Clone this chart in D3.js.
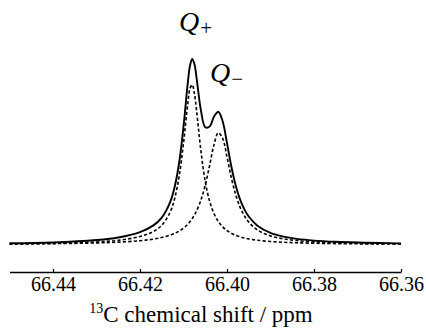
<!DOCTYPE html>
<html>
<head>
<meta charset="utf-8">
<script src="https://cdn.jsdelivr.net/npm/d3@7"></script>
<style>
  body { margin: 0; background: #fff; }
  svg { display: block; }
  text { font-family: "Liberation Serif", "Times New Roman", "DejaVu Serif", serif; fill: #000; }
</style>
</head>
<body>
<svg></svg>
<script>
let width = 426
let height = 328

// chemical shift samples (ppm)
let shifts = [66.450, 66.440, 66.430, 66.425, 66.420, 66.417, 66.415, 66.413, 66.412,
    66.411, 66.410, 66.409, 66.4085, 66.408, 66.4075, 66.407, 66.406, 66.405, 66.404,
    66.403, 66.402, 66.401, 66.400, 66.399, 66.398, 66.397, 66.396, 66.395, 66.393,
    66.390, 66.387, 66.384, 66.380, 66.375, 66.370, 66.365, 66.360]
// Q+ component (dashed, left)
let qPlus = [0.0040, 0.0070, 0.0160, 0.0260, 0.0500, 0.0800, 0.1200, 0.2066, 0.2914,
    0.4263, 0.6337, 0.8853, 0.9750, 0.9980, 0.9455, 0.8378, 0.5863, 0.3940, 0.2710,
    0.1938, 0.1438, 0.1103, 0.0870, 0.0702, 0.0577, 0.0483, 0.0409, 0.0351, 0.0267,
    0.0187, 0.0138, 0.0106, 0.0079, 0.0057, 0.0043, 0.0034, 0.0027]
// Q- component (dashed, right)
let qMinus = [0.0035, 0.0055, 0.0100, 0.0147, 0.0236, 0.0333, 0.0436, 0.0591, 0.0700,
    0.0841, 0.1027, 0.1276, 0.1434, 0.1618, 0.1837, 0.2096, 0.2771, 0.3712, 0.4934,
    0.6225, 0.6976, 0.6633, 0.5469, 0.4172, 0.3112, 0.2339, 0.1790, 0.1400, 0.0909,
    0.0537, 0.0351, 0.0246, 0.0166, 0.0111, 0.0079, 0.0059, 0.0046]
// full spectrum (solid)
let spectrum = [0.0078, 0.0128, 0.0280, 0.0440, 0.0780, 0.1180, 0.1680, 0.2700, 0.3640,
    0.5110, 0.7364, 1.0129, 1.1184, 1.1598, 1.1292, 1.0420, 0.8400, 0.7330, 0.7370,
    0.7980, 0.8300, 0.7700, 0.6339, 0.4874, 0.3689, 0.2822, 0.2199, 0.1751, 0.1176,
    0.0724, 0.0489, 0.0352, 0.0245, 0.0168, 0.0122, 0.0093, 0.0073]
let xTicks = [66.44, 66.42, 66.40, 66.38, 66.36]

let svg = d3.select('svg')
    .attr('width', width)
    .attr('height', height)

let x = d3.scaleLinear()
    .domain([66.45, 66.36])
    .range([9.5, 401])
let y = d3.scaleLinear()
    .domain([0, 1])
    .range([244.5, 84.5])

let line = vals => d3.line()
    .x((d, i) => x(shifts[i]))
    .y(d => y(d))
    .curve(d3.curveCatmullRom.alpha(0.5))(vals)

let traces = [
    { vals: qPlus, dash: '3.2,2.2', w: 1.6 },
    { vals: qMinus, dash: '3.2,2.2', w: 1.6 },
    { vals: spectrum, dash: null, w: 1.9 }
]
traces.forEach(t => {
    svg.append('path')
        .attr('d', line(t.vals))
        .attr('fill', 'none')
        .attr('stroke', '#000')
        .attr('stroke-width', t.w)
        .attr('stroke-dasharray', t.dash)
})

let axisY = 272
let axis = svg.append('g')
    .attr('transform', `translate(0,${axisY})`)
    .call(d3.axisBottom(x)
        .tickValues(xTicks)
        .tickFormat(d3.format('.2f'))
        .tickSizeInner(-3)
        .tickSizeOuter(0)
        .tickPadding(8))
axis.attr('font-family', null)
axis.select('.domain')
    .attr('stroke-width', 1.6)
axis.selectAll('.tick line')
    .attr('stroke-width', 1.2)
axis.selectAll('.tick text')
    .attr('font-size', 20)
    .attr('dy', '0.55em')

let title = svg.append('text')
    .attr('x', 201)
    .attr('y', 322)
    .attr('text-anchor', 'middle')
    .attr('font-size', 23)
title.append('tspan')
    .attr('font-size', 14)
    .attr('dy', -9)
    .text('13')
title.append('tspan')
    .attr('dy', 9)
    .text('C chemical shift / ppm')

let peakLabels = [
    { sub: '+', x: 179, y: 31 },
    { sub: '\u2212', x: 210, y: 82 }
]
peakLabels.forEach(p => {
    let t = svg.append('text')
        .attr('x', p.x)
        .attr('y', p.y)
        .attr('font-size', 28)
    t.append('tspan')
        .attr('font-style', 'italic')
        .text('Q')
    t.append('tspan')
        .attr('font-size', 21)
        .attr('dy', 4)
        .attr('dx', 1)
        .text(p.sub)
})
</script>
</body>
</html>
